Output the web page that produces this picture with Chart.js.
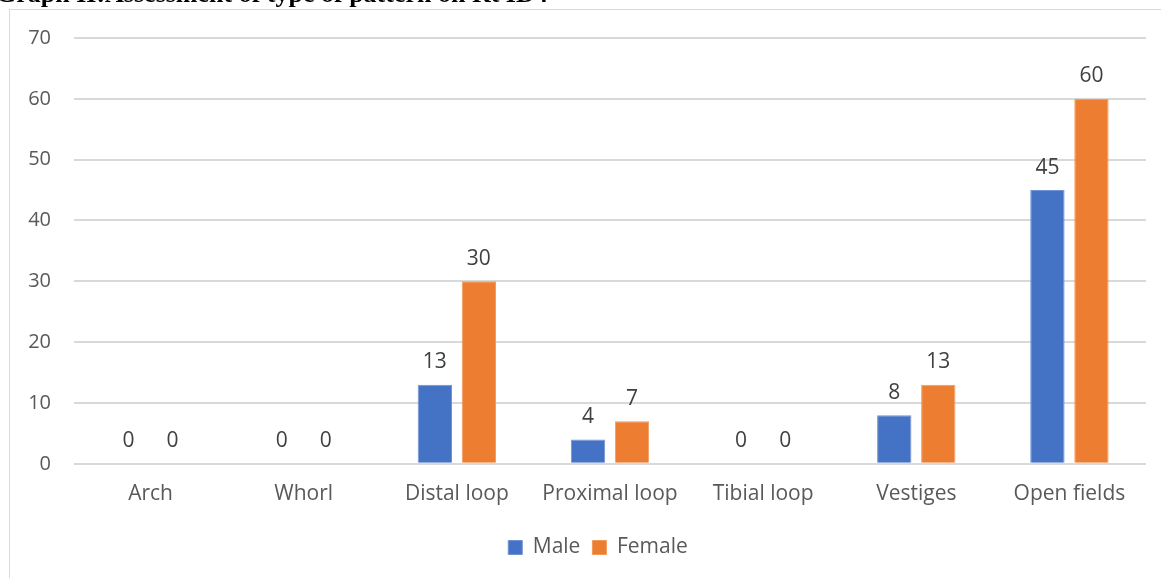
<!DOCTYPE html>
<html>
<head>
<meta charset="utf-8">
<script src="https://cdn.jsdelivr.net/npm/chart.js@4.4.0/dist/chart.umd.min.js"></script>
<style>
  html, body { margin:0; padding:0; background:#fff; overflow:hidden; }
  #wrap { position:relative; width:1161px; height:578px; }
  #frame { position:absolute; left:9px; top:9px; width:1200px; height:600px; border:1px solid #d9d9d9; }
  #title { position:absolute; left:-4px; top:-21px; font-family:"Liberation Serif","Times New Roman",serif;
           font-weight:bold; font-size:26px; white-space:nowrap; color:#000; }
  canvas { position:absolute; left:0; top:0; }
</style>
</head>
<body>
<div id="wrap">
  <div id="frame"></div>
  <canvas id="chart" width="1161" height="578"></canvas>
  <div id="title">Graph II:Assessment of type of pattern on Rt ID4</div>
</div>
<script>
// Données
const categories = ["Arch", "Whorl", "Distal loop", "Proximal loop", "Tibial loop", "Vestiges", "Open fields"];
const male = [0, 0, 13, 4, 0, 8, 45];
const female = [0, 0, 30, 7, 0, 13, 60];
const yTicks = [0, 10, 20, 30, 40, 50, 60, 70];

const FONT = "'Open Sans', 'Liberation Sans', sans-serif";
const SIZE = 21;

// étiquettes de valeur au-dessus des barres
const valueLabels = {
  id: "valueLabels",
  afterLayout(chart) {
    // légende un peu décalée vers la droite, comme dans Excel
    if (chart.legend) { chart.legend.left += 25; chart.legend.right += 25; }
  },
  afterDatasetsDraw(chart) {
    const ctx = chart.ctx;
    ctx.save();
    ctx.font = SIZE + "px " + FONT;
    ctx.fillStyle = "#404040";
    ctx.textAlign = "center";
    ctx.textBaseline = "bottom";
    chart.data.datasets.forEach((ds, i) => {
      chart.getDatasetMeta(i).data.forEach((bar, j) => {
        ctx.fillText(String(ds.data[j]), bar.x, bar.y - 12);
      });
    });
    ctx.restore();
  }
};

new Chart(document.getElementById("chart"), {
  type: "bar",
  data: {
    labels: categories,
    datasets: [
      { label: "Male", data: male, backgroundColor: "#4472c4", borderColor: "#6f93d6", borderWidth: 1,
        categoryPercentage: 0.575, barPercentage: 0.78 },
      { label: "Female", data: female, backgroundColor: "#ed7d31", borderColor: "#f29a5c", borderWidth: 1,
        categoryPercentage: 0.575, barPercentage: 0.78 }
    ]
  },
  options: {
    responsive: false,
    animation: false,
    layout: { padding: { top: 38, right: 15, bottom: 10, left: 0 } },
    plugins: {
      legend: {
        position: "bottom",
        labels: { font: { family: FONT, size: SIZE }, color: "#595959", boxWidth: 14, boxHeight: 14, padding: 12 }
      },
      tooltip: { enabled: false }
    },
    scales: {
      x: {
        grid: { display: false, drawTicks: false },
        border: { display: false },
        ticks: { font: { family: FONT, size: SIZE }, color: "#595959", padding: 18 }
      },
      y: {
        min: 0, max: 70,
        afterFit(s) { s.width = 74; },
        afterBuildTicks(s) { s.ticks = yTicks.map(v => ({ value: v })); },
        grid: { color: "#d9d9d9", lineWidth: 2, drawTicks: false },
        border: { display: false },
        ticks: { font: { family: FONT, size: SIZE - 1 }, color: "#595959", padding: 23 }
      }
    }
  },
  plugins: [valueLabels]
});
</script>
</body>
</html>
